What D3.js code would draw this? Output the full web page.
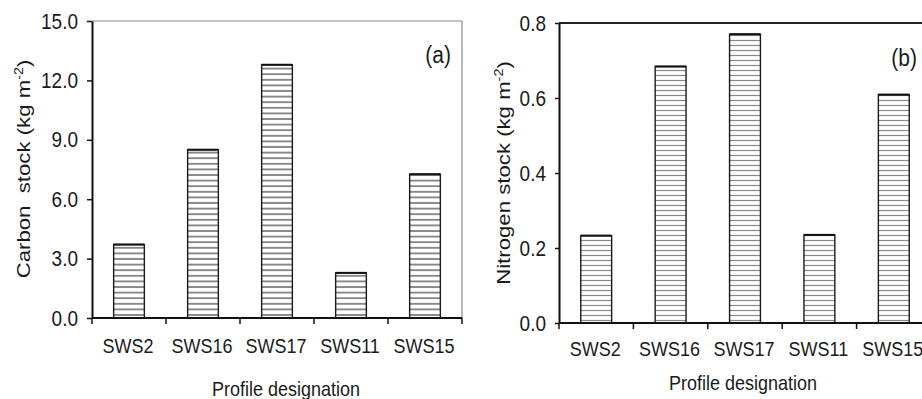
<!DOCTYPE html>
<html>
<head>
<meta charset="utf-8">
<script src="https://cdn.jsdelivr.net/npm/d3@7"></script>
<style>
  body { margin: 0; background: #fff; }
  text { font-family: "Liberation Sans", Arial, sans-serif; fill: #1a1a1a; white-space: pre; }
</style>
</head>
<body>
<script>
const categories = ["SWS2", "SWS16", "SWS17", "SWS11", "SWS15"];
const carbonStock = [3.71, 8.5, 12.79, 2.28, 7.26];
const nitrogenStock = [0.233, 0.684, 0.77, 0.235, 0.609];
const carbonTicks = [0, 3, 6, 9, 12, 15];
const nitrogenTicks = [0, 0.2, 0.4, 0.6, 0.8];
const xTitle = "Profile designation";

const width = 922;
const height = 399;
const stretch = 1.15; // the source picture is slightly taller than wide

const svg = d3.select("body")
  .append("svg")
  .attr("width", width)
  .attr("height", height);

svg.append("rect")
  .attr("width", "100%")
  .attr("height", "100%")
  .attr("fill", "white");

const defs = svg.append("defs");

function hatch(id, gap, color) {
  const p = defs.append("pattern")
    .attr("id", id)
    .attr("patternUnits", "userSpaceOnUse")
    .attr("width", 8)
    .attr("height", gap);
  p.append("rect").attr("width", 8).attr("height", gap).attr("fill", "white");
  p.append("line")
    .attr("x1", 0).attr("x2", 8)
    .attr("y1", gap / 2).attr("y2", gap / 2)
    .attr("stroke", color)
    .attr("stroke-width", 1.2);
}
hatch("hatchA", 5.6, "#444");
hatch("hatchB", 5, "#8a8a8a");

function drawPanel(o) {
  const g = svg.append("g").attr("transform", `translate(${o.left},${o.top})`);
  const w = o.width;
  const h = o.height;

  const x = d3.scaleBand()
    .domain(categories)
    .range([0, w])
    .paddingInner(0.585)
    .paddingOuter(0.2925);

  const y = d3.scaleLinear()
    .domain([0, d3.max(o.ticks)])
    .range([h, 0]);

  // frame (top and right)
  g.append("line")
    .attr("x1", 0).attr("x2", o.frameRight)
    .attr("y1", 0).attr("y2", 0)
    .attr("stroke", o.frameColor)
    .attr("stroke-width", o.frameWidth);
  if (o.frameRight <= w + 1) {
    g.append("line")
      .attr("x1", w).attr("x2", w)
      .attr("y1", 0).attr("y2", h)
      .attr("stroke", o.frameColor)
      .attr("stroke-width", o.frameWidth);
  }

  // bars
  const values = o.values;
  g.selectAll(".bar")
    .data(categories)
    .join("rect")
    .attr("class", "bar")
    .attr("x", d => x(d))
    .attr("y", (d, i) => y(values[i]))
    .attr("width", x.bandwidth())
    .attr("height", (d, i) => h - y(values[i]))
    .attr("fill", `url(#${o.pattern})`)
    .attr("stroke", "#1a1a1a")
    .attr("stroke-width", 1.4);

  g.selectAll(".bartop")
    .data(categories)
    .join("line")
    .attr("class", "bartop")
    .attr("x1", d => x(d))
    .attr("x2", d => x(d) + x.bandwidth())
    .attr("y1", (d, i) => y(values[i]))
    .attr("y2", (d, i) => y(values[i]))
    .attr("stroke", "#111")
    .attr("stroke-width", 2);

  // y axis
  const yAxis = g.append("g")
    .call(d3.axisLeft(y)
      .tickValues(o.ticks)
      .tickSize(o.yTickSize)
      .tickSizeOuter(0)
      .tickPadding(o.yTickPadding)
      .tickFormat(d3.format(".1f")));
  yAxis.select(".domain").attr("stroke", "#111").attr("stroke-width", 2);
  yAxis.selectAll(".tick line").attr("stroke", "#111").attr("stroke-width", 1.5);
  yAxis.selectAll(".tick text")
    .attr("font-size", 19)
    .attr("fill", "#1a1a1a")
    .attr("transform", `scale(1,${stretch})`);

  // x axis: line, ticks on band boundaries, labels under band centers
  g.append("line")
    .attr("x1", 0).attr("x2", Math.min(w, width - o.left))
    .attr("y1", h).attr("y2", h)
    .attr("stroke", "#111")
    .attr("stroke-width", 2);

  const bounds = categories.map(d => x(d) - x.step() * x.paddingInner() / 2).concat([w]);
  g.selectAll(".xtick")
    .data(bounds)
    .join("line")
    .attr("class", "xtick")
    .attr("x1", d => d).attr("x2", d => d)
    .attr("y1", h).attr("y2", h + 6)
    .attr("stroke", "#111")
    .attr("stroke-width", 1.5);

  g.selectAll(".xlabel")
    .data(categories)
    .join("text")
    .attr("class", "xlabel")
    .attr("text-anchor", "middle")
    .attr("font-size", 18)
    .attr("transform", d => `translate(${x(d) + x.bandwidth() / 2 - 1},${h + o.xLabelOffset}) scale(1,${stretch})`)
    .text(d => d);

  // x title
  g.append("text")
    .attr("text-anchor", "middle")
    .attr("font-size", 18)
    .attr("transform", `translate(${w / 2 + o.xTitleShift},${h + o.xTitleOffset}) scale(1,${stretch})`)
    .text(xTitle);

  // y title
  const yt = g.append("text")
    .attr("text-anchor", "middle")
    .attr("font-size", 18.5)
    .attr("transform", `translate(${o.yTitleX},${o.yTitleY}) rotate(-90) scale(1.2,1)`);
  yt.append("tspan").text(o.yTitle + " (kg m");
  yt.append("tspan").attr("font-size", 12).attr("dy", -7).text("-2");
  yt.append("tspan").attr("dy", 7).text(")");

  // panel label
  g.append("text")
    .attr("text-anchor", "end")
    .attr("font-size", 21)
    .attr("transform", `translate(${o.labelX},${o.labelY}) scale(1,${stretch})`)
    .text(o.label);
}

drawPanel({
  left: 92, top: 21, width: 370, height: 297,
  values: carbonStock, ticks: carbonTicks, pattern: "hatchA",
  frameRight: 370, frameColor: "#8a8a8a", frameWidth: 1.2,
  yTickSize: 5, yTickPadding: 9,
  xLabelOffset: 35, xTitleShift: 9, xTitleOffset: 78,
  yTitle: "Carbon  stock", yTitleX: -62, yTitleY: 148,
  label: "(a)", labelX: 359, labelY: 42
});

drawPanel({
  left: 559, top: 23, width: 372, height: 300,
  values: nitrogenStock, ticks: nitrogenTicks, pattern: "hatchB",
  frameRight: 372, frameColor: "#222", frameWidth: 2,
  yTickSize: 4, yTickPadding: 9,
  xLabelOffset: 33, xTitleShift: -2, xTitleOffset: 67,
  yTitle: "Nitrogen stock", yTitleX: -49, yTitleY: 150,
  label: "(b)", labelX: 358, labelY: 43
});
</script>
</body>
</html>
